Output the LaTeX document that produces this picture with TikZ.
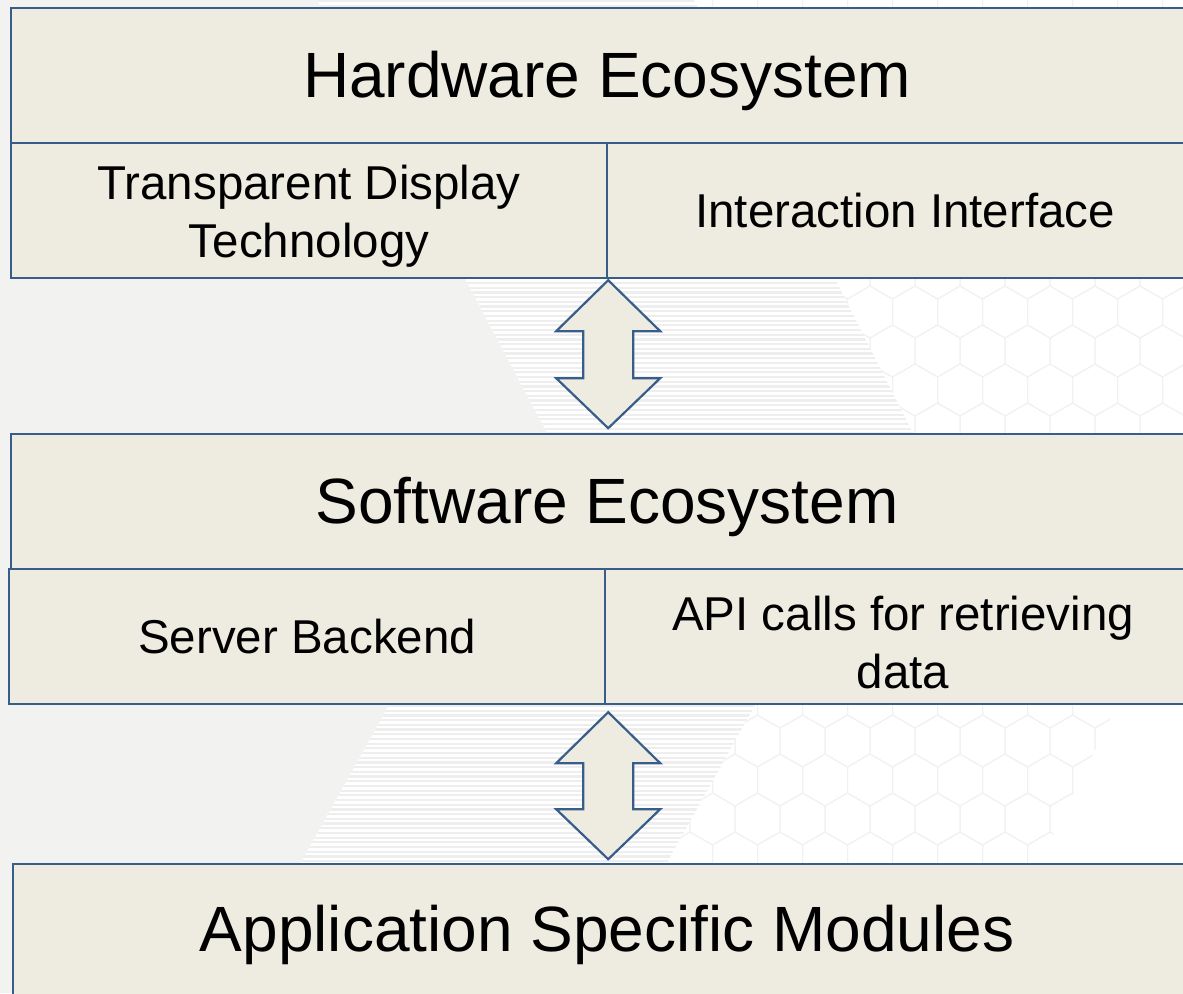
\documentclass[tikz,border=0pt]{standalone}
\usepackage{fontspec}
\setmainfont{Liberation Sans}
\usetikzlibrary{calc}
\definecolor{lineblue}{HTML}{385D8A}
\definecolor{boxfill}{HTML}{EEECE1}
\definecolor{bggrey}{HTML}{F2F3F1}
\definecolor{stripecol}{HTML}{EDEEED}
\definecolor{hexline}{HTML}{F1F1F0}
\begin{document}
\begin{tikzpicture}[x=1pt,y=-1pt,
  layerbox/.style={draw=lineblue, fill=boxfill, line width=2.2pt, inner sep=0pt,
    rectangle, anchor=north west, align=center},
  bigtext/.style={font=\fontsize{64}{77}\selectfont},
  smalltext/.style={font=\fontsize{47.5}{58}\selectfont},
  blockarrow/.style={draw=lineblue, fill=boxfill, line width=2.2pt, line join=miter}]
\useasboundingbox (0,0) rectangle (1183,993);
\clip (0,0) rectangle (1183,993);
% background
\fill[bggrey] (0,0) rectangle (1183,993);
\fill[white] (317,0) -- (1183,0) -- (1183,993) -- (228,993) -- (389,705) -- (547,433) -- cycle;
\begin{scope}
  \clip (317,0) -- (694,0) -- (913,433) -- (755,705) -- (594,993) -- (228,993) -- (389,705) -- (547,433) -- cycle;
  \foreach \yy in {1,5.7,...,993} \draw[stripecol, line width=2.2pt] (200,\yy) -- (1000,\yy);
\end{scope}
\begin{scope}
  \clip (694,0) -- (1183,0) -- (1183,600) -- (1117,705) -- (976,993) -- (594,993) -- (755,705) -- (913,433) -- cycle;
  \foreach \r in {0,...,26} {
    \foreach \c in {0,...,13} {
      \pgfmathsetmacro{\hx}{600 + \c*45 + mod(\r,2)*22.5}
      \pgfmathsetmacro{\hy}{\r*39}
      \draw[hexline, line width=1pt] (\hx,\hy-26) -- (\hx+22.5,\hy-13) -- (\hx+22.5,\hy+13) -- (\hx,\hy+26) -- (\hx-22.5,\hy+13) -- (\hx-22.5,\hy-13) -- cycle;
    }
  }
\end{scope}
% hardware layer
\node[layerbox, minimum width=1192pt, minimum height=135pt] (hw) at (10,7) {};
\node[bigtext] (hwT) at ($(hw.center)+(0,5)$) {Hardware Ecosystem};
\node[layerbox, minimum width=596pt, minimum height=135pt] (hwL) at (10,142) {};
\node[smalltext, align=center] (hwLT) at ($(hwL.center)+(0,6)$) {Transparent Display\\Technology};
\node[layerbox, smalltext, minimum width=596pt, minimum height=135pt] (hwR) at (606,142) {Interaction Interface};
% software layer
\node[layerbox, minimum width=1192pt, minimum height=135pt] (sw) at (10,433) {};
\node[bigtext] (swT) at ($(sw.center)+(0,5)$) {Software Ecosystem};
\node[layerbox, smalltext, minimum width=596pt, minimum height=135pt] (swL) at (8,568) {Server Backend};
\node[layerbox, minimum width=596pt, minimum height=135pt] (swR) at (604,568) {};
\node[smalltext, align=center] (swRT) at ($(swR.center)+(0,6)$) {API calls for retrieving\\data};
% application layer
\node[layerbox, minimum width=1188pt, minimum height=140pt] (app) at (12,863) {};
\node[bigtext] (appT) at ($(app.center)+(0,1)$) {Application Specific Modules};
% double block arrows
\coordinate (a1) at ($(hwL.south east)+(0,1)$);
\draw[blockarrow] (a1) -- ++(52,51) -- ++(-27,0) -- ++(0,47) -- ++(27,0) -- ++(-52,50) -- ++(-52,-50) -- ++(27,0) -- ++(0,-47) -- ++(-27,0) -- cycle;
\coordinate (a2) at ($(swL.south east)+(2,7)$);
\draw[blockarrow] (a2) -- ++(52,51) -- ++(-27,0) -- ++(0,46) -- ++(27,0) -- ++(-52,50) -- ++(-52,-50) -- ++(27,0) -- ++(0,-46) -- ++(-27,0) -- cycle;
\end{tikzpicture}
\end{document}
